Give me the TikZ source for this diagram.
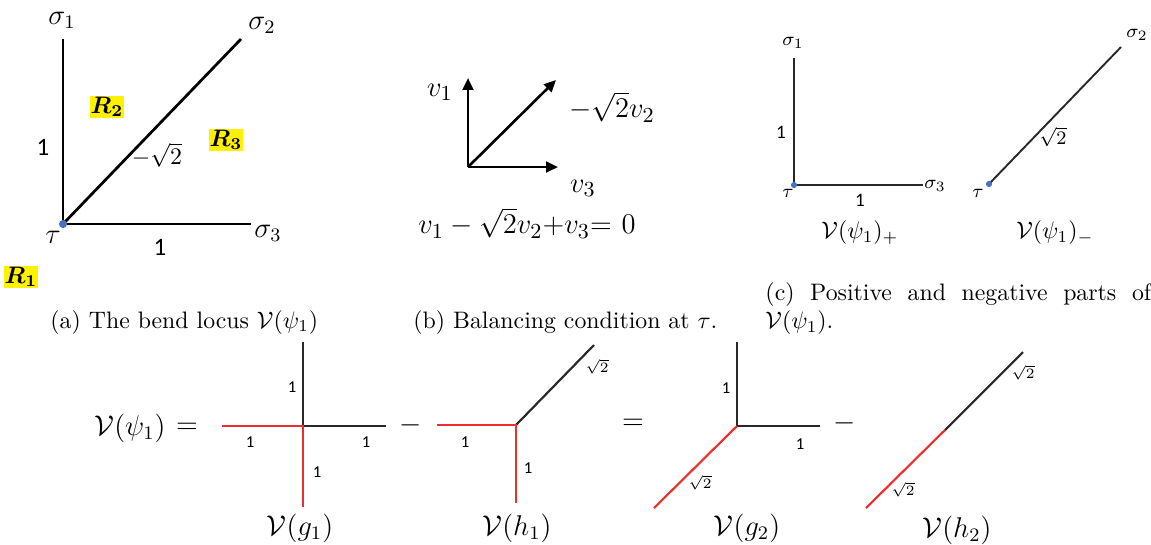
\documentclass[tikz,border=0pt]{standalone}
\usepackage{amsmath}
\usepackage{fontspec}
\newfontfamily\calib{Carlito}
\usetikzlibrary{arrows.meta}

\definecolor{dotblue}{RGB}{68,114,196}
\definecolor{lred}{RGB}{240,45,45}
\definecolor{lgrey}{RGB}{40,40,40}

\tikzset{
  bigline/.style={line width=1.15pt},
  midline/.style={line width=0.8pt, draw=lgrey},
  blkline/.style={line width=0.9pt, draw=lgrey},
  redline/.style={line width=0.9pt, draw=lred},
  vec/.style={line width=1.1pt, -{Triangle[length=5pt,width=4.5pt]}},
  lbla/.style={inner sep=0pt, font=\normalsize},
  sga/.style={inner sep=0pt, font=\large},
  lblb/.style={inner sep=0pt, font=\fontsize{12.5}{15}\selectfont},
  lblc/.style={inner sep=0pt, font=\footnotesize},
  lbld/.style={inner sep=0pt, font=\fontsize{11.5}{13}\selectfont},
  numa/.style={inner sep=0pt, font=\calib\fontsize{10.5}{12}\selectfont},
  nums/.style={inner sep=0pt, font=\calib\fontsize{7}{8}\selectfont},
  rtwo/.style={inner sep=0pt, font=\fontsize{6}{7}\selectfont},
  reg/.style={fill=yellow, inner sep=0.4pt, font=\normalsize},
  captxt/.style={inner sep=0pt, font=\normalsize}
}

\begin{document}
\begin{tikzpicture}[x=0.42pt,y=-0.42pt]

\useasboundingbox (0,0) rectangle (1151,544);

% (a) bend locus
\coordinate (tauA) at (63,224);
\coordinate (s1A) at (63,39);
\coordinate (s2A) at (241,39);
\coordinate (s3A) at (251,224);

\draw[bigline] (s1A) -- (tauA) -- (s3A);
\draw[bigline] (tauA) -- (s2A);
\fill[dotblue] (tauA) circle (1.7pt);

\node[sga] (sig1a) at (62,20) {$\sigma_1$};
\node[sga] (sig2a) at (262,25) {$\sigma_2$};
\node[sga] (sig3a) at (268,233) {$\sigma_3$};
\node[sga] (taua) at (53,237) {$\tau$};
\node[numa] (wva) at (43,147) {1};
\node[numa] (wha) at (160,247) {1};
\node[lbla] (wda) at (157,155) {$-\sqrt{2}$};
\node[reg] (r1) at (21,277) {$\boldsymbol{R_1}$};
\node[reg] (r2) at (107,107) {$\boldsymbol{R_2}$};
\node[reg] (r3) at (226,140) {$\boldsymbol{R_3}$};

\node[captxt, anchor=base west] (capa) at (50,328)
{(a) The bend locus $\mathcal{V}(\psi_1)$};

% (b) balancing
\coordinate (ob) at (468,167);
\coordinate (v1b) at (468,78);
\coordinate (v2b) at (556,80);
\coordinate (v3b) at (558,167);

\draw[vec] (ob) -- (v1b);
\draw[vec] (ob) -- (v2b);
\draw[vec] (ob) -- (v3b);

\node[lblb] (lv1) at (440,92) {$v_1$};
\node[lblb] (lv2) at (612,107) {$-\sqrt{2}v_2$};
\node[lblb] (lv3) at (583,188) {$v_3$};
\node[lblb] (balb) at (527,223) {$v_1-\sqrt{2}v_2{+}v_3{=}\ 0$};

\node[captxt, anchor=base west] (capb) at (413,328)
{(b) Balancing condition at $\tau$.};

% (c) positive and negative parts
\coordinate (tauC) at (794,185);
\coordinate (s1C) at (794,58);
\coordinate (s3C) at (923,185);
\coordinate (tauD) at (989,184);
\coordinate (s2D) at (1121,47);

\draw[midline] (s1C) -- (tauC) -- (s3C);
\draw[midline] (tauD) -- (s2D);
\fill[dotblue] (tauC) circle (1.3pt);
\fill[dotblue] (tauD) circle (1.3pt);

\node[lblc] (sig1c) at (793,43) {$\sigma_1$};
\node[lblc] (sig3c) at (935,186) {$\sigma_3$};
\node[lblc] (tauc) at (788,193) {$\tau$};
\node[nums, font=\calib\fontsize{8}{9}\selectfont] (wvc) at (781,132) {1};
\node[nums, font=\calib\fontsize{8}{9}\selectfont] (whc) at (860,200) {1};
\node[lbla] (vpos) at (860,233) {$\mathcal{V}(\psi_1)_+$};
\node[lblc] (sig2d) at (1137,35) {$\sigma_2$};
\node[lblc] (taud) at (978,193) {$\tau$};
\node[lblc] (wdd) at (1053,137) {$\sqrt{2}$};
\node[lbla] (vneg) at (1055,233) {$\mathcal{V}(\psi_1)_-$};

\node[captxt, anchor=north west, text width=162pt, align=justify] (capc) at (765,282)
{(c) Positive and negative parts of $\mathcal{V}(\psi_1)$.};

% bottom row: V(psi_1) = V(g_1) - V(h_1) = V(g_2) - V(h_2)
\node[lbld] (lhs) at (130,428) {$\mathcal{V}(\psi_1)$};
\node[lbld] (eq1) at (187,428) {$=$};

% V(g_1)
\coordinate (g1) at (303,426);
\coordinate (g1u) at (303,342);
\coordinate (g1d) at (303,507);
\coordinate (g1l) at (222,426);
\coordinate (g1r) at (386,426);
\draw[blkline] (g1u) -- (g1);
\draw[blkline] (g1) -- (g1r);
\draw[redline] (g1l) -- (g1) -- (g1d);
\node[nums] (g1n1) at (292,387) {1};
\node[nums] (g1n2) at (250,442) {1};
\node[nums] (g1n3) at (366,442) {1};
\node[nums] (g1n4) at (317,472) {1};
\node[lbld] (vg1) at (300,528) {$\mathcal{V}(g_1)$};

\node[lbld] (mi1) at (411,425) {$-$};

% V(h_1)
\coordinate (h1) at (516,425);
\coordinate (h1l) at (437,425);
\coordinate (h1d) at (516,503);
\coordinate (h1u) at (594,345);
\draw[blkline] (h1) -- (h1u);
\draw[redline] (h1l) -- (h1) -- (h1d);
\node[nums] (h1n1) at (465,442) {1};
\node[nums] (h1n2) at (528,468) {1};
\node[rtwo] (h1n3) at (597,367) {$\sqrt{2}$};
\node[lbld] (vh1) at (517,528) {$\mathcal{V}(h_1)$};

\node[lbld] (eq2) at (633,424) {$=$};

% V(g_2)
\coordinate (g2) at (737,426);
\coordinate (g2u) at (737,342);
\coordinate (g2r) at (820,426);
\coordinate (g2d) at (654,508);
\draw[blkline] (g2u) -- (g2) -- (g2r);
\draw[redline] (g2) -- (g2d);
\node[nums] (g2n1) at (726,388) {1};
\node[nums] (g2n2) at (800,444) {1};
\node[rtwo] (g2n3) at (700,483) {$\sqrt{2}$};
\node[lbld] (vg2) at (747,528) {$\mathcal{V}(g_2)$};

\node[lbld] (mi2) at (845,423) {$-$};

% V(h_2)
\coordinate (h2lo) at (866,508);
\coordinate (h2) at (945,430);
\coordinate (h2hi) at (1023,352);
\draw[redline] (h2lo) -- (h2);
\draw[blkline] (h2) -- (h2hi);
\node[rtwo] (h2n1) at (1023,373) {$\sqrt{2}$};
\node[rtwo] (h2n2) at (903,490) {$\sqrt{2}$};
\node[lbld] (vh2) at (957,530) {$\mathcal{V}(h_2)$};

\end{tikzpicture}
\end{document}
